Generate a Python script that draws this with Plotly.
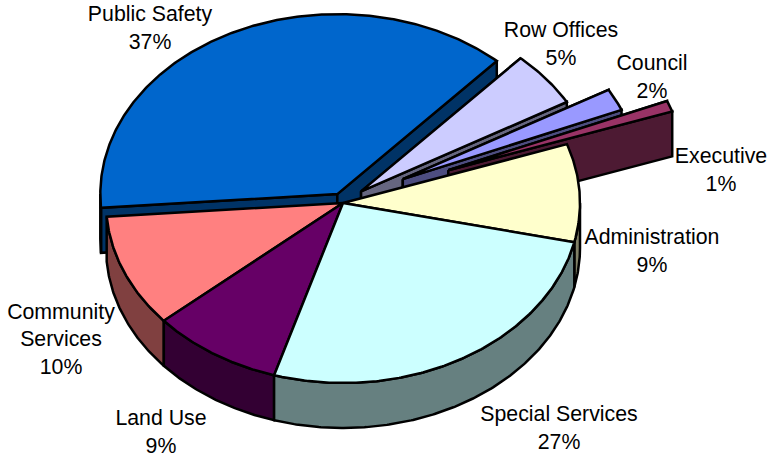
import numpy as np
import plotly.graph_objects as go

# Budget shares, listed clockwise from the first slice
categories = ["Administration", "Special Services", "Land Use", "Community Services",
              "Public Safety", "Row Offices", "Council", "Executive"]
label_lines = ["Administration", "Special Services", "Land Use", "Community<br>Services",
               "Public Safety", "Row Offices", "Council", "Executive"]
shares = [9, 27, 9, 10, 37, 5, 2, 1]

# How far each slice is pulled out of the pie, as a fraction of the radius
pull = [0, 0, 0, 0, 0.055, 0.10, 0.285, 0.48]

top_colors = ["#ffffcc", "#ccffff", "#660066", "#ff8080",
              "#0066cc", "#ccccff", "#9999ff", "#993366"]
side_colors = ["#808066", "#668080", "#330033", "#804040",
               "#003366", "#666680", "#4d4d80", "#4d1a33"]

# Label centres in plot units
label_x = [652, 559, 161, 61, 150, 561, 652, 721]
label_y = [253, 430, 434, 341, 30, 46, 79, 172]

# Tilted pie geometry in plot units (one unit is one screen pixel)
CX, CY = 343, 203
RX, RY = 237, 180
DEPTH = 45
START_ANGLE = -20.5
LINE = 2.5

# Viewing perspective: slice angles shift slightly around the ellipse
SKEW_BASE, SKEW_AMP, SKEW_PHASE = -0.4, 2.0, 315

# Painted back to front so nearer slices hide the walls behind them
paint_order = [4, 5, 6, 7, 0, 3, 2, 1]

fig = go.Figure()


def add_polygon(xs, ys, color, name):
    fig.add_trace(go.Scatter(
        x=xs, y=ys, mode="lines", fill="toself", fillcolor=color,
        line=dict(color="#000000", width=LINE), name=name,
        hoverinfo="name", showlegend=False,
    ))


def viewed(angle):
    return angle + SKEW_BASE + SKEW_AMP * np.cos(np.radians(angle - SKEW_PHASE))


def arc(cx, cy, a0, a1):
    t = np.radians(np.linspace(a0, a1, max(2, int(abs(a1 - a0) * 2) + 1)))
    return cx + RX * np.cos(t), cy + RY * np.sin(t)


spans = 3.6 * np.array(shares, dtype=float)
ends = START_ANGLE + np.cumsum(spans)
begins = ends - spans

for i in paint_order:
    mid = np.radians((begins[i] + ends[i]) / 2)
    a0, a1 = viewed(begins[i]), viewed(ends[i])
    cx = CX + pull[i] * RX * np.cos(mid)
    cy = CY + pull[i] * RY * np.sin(mid)
    name = categories[i]

    # Cut faces are only seen on slices pulled away from their neighbours
    if pull[i] > 0:
        for a in (a0, a1):
            ex, ey = arc(cx, cy, a, a)
            fx = np.array([cx, ex[0], ex[0], cx, cx])
            fy = np.array([cy, ey[0], ey[0] + DEPTH, cy + DEPTH, cy])
            add_polygon(fx, fy, side_colors[i], name)

    # Outer rim, front half of the ellipse only
    for lo, hi in ((a0, a1), (a0 - 360, a1 - 360)):
        r0, r1 = max(lo, 0), min(hi, 180)
        if r1 > r0:
            rx, ry = arc(cx, cy, r0, r1)
            add_polygon(np.r_[rx, rx[::-1], rx[0]],
                        np.r_[ry, ry[::-1] + DEPTH, ry[0]],
                        side_colors[i], name)

    # Top face
    tx, ty = arc(cx, cy, a0, a1)
    add_polygon(np.r_[cx, tx, cx], np.r_[cy, ty, cy], top_colors[i], name)

# Slice labels with category and rounded share
fig.add_trace(go.Scatter(
    x=label_x, y=label_y, mode="text",
    text=[f"{t}<br>{s}%" for t, s in zip(label_lines, shares)],
    textposition="middle center", cliponaxis=False, hoverinfo="skip",
    textfont=dict(family="Liberation Sans", size=21.3, color="#000000"),
    showlegend=False,
))

fig.update_layout(
    width=768, height=458, margin=dict(l=0, r=0, t=0, b=0),
    paper_bgcolor="#ffffff", plot_bgcolor="#ffffff", showlegend=False,
    xaxis=dict(range=[0, 768], visible=False, fixedrange=True),
    yaxis=dict(range=[458, 0], visible=False, fixedrange=True),
)

fig.write_html("out.html", config=dict(displayModeBar=False))
